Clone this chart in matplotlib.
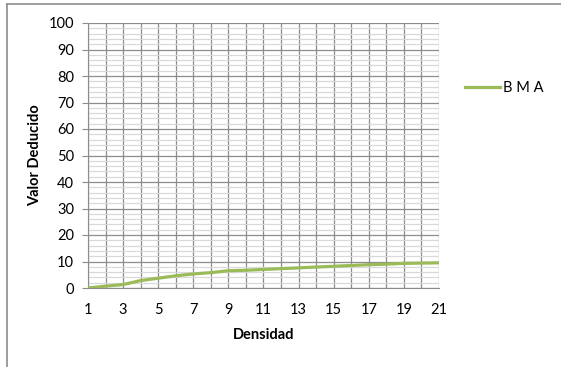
import numpy as np
import matplotlib.pyplot as plt
from matplotlib.lines import Line2D

densidad = list(range(1, 22))
valor_deducido = [0.0, 0.7, 1.3, 2.8, 3.7, 4.6, 5.3, 5.8, 6.5, 6.7, 7.0,
                  7.3, 7.6, 7.9, 8.2, 8.5, 8.8, 9.0, 9.3, 9.4, 9.5]
serie = "B M A"

plt.rcParams['font.family'] = ['Lato', 'DejaVu Sans']

fig = plt.figure(figsize=(5.61, 3.67), dpi=100)
ax = fig.add_axes([88 / 561, 1 - 288 / 367, (439 - 88) / 561, (288 - 23) / 367])

ax.plot(densidad, valor_deducido, color="#9bbb59", linewidth=2.3,
        solid_capstyle="butt", zorder=5)

ax.set_xlim(1, 21)
ax.set_ylim(0, 100)
ax.set_xticks(range(1, 22, 2))
ax.set_xticks(range(1, 22), minor=True)
ax.set_yticks(range(0, 101, 10))
ax.set_yticks(range(0, 101, 2), minor=True)

ax.grid(which="major", axis="y", color="#8c8c8c", linewidth=0.9)
ax.grid(which="minor", axis="y", color="#d9d9d9", linewidth=0.9)
ax.grid(which="both", axis="x", color="#8c8c8c", linewidth=0.9)
ax.set_axisbelow(True)

for s in ["top", "right"]:
    ax.spines[s].set_visible(False)
ax.spines["left"].set_color("#8c8c8c")
ax.spines["bottom"].set_color("#8c8c8c")
ax.tick_params(axis="y", which="major", length=4, color="#8c8c8c", labelsize=10.5, pad=6)
ax.tick_params(axis="y", which="minor", length=0)
ax.tick_params(axis="x", which="both", length=0, labelsize=10.5, pad=11)

ax.set_xlabel("Densidad", fontsize=10.5, fontweight="bold", labelpad=8)
ax.set_ylabel("Valor Deducido", fontsize=10.5, fontweight="bold", labelpad=5)

handle = Line2D([], [], color="#9bbb59", linewidth=2.3)
fig.legend([handle], [serie], loc="center left", bbox_to_anchor=(452 / 561, 1 - 88 / 367),
           frameon=False, fontsize=10.5, handlelength=2.4, handletextpad=0.2)

# chart area border (only top and left edges visible in frame)
fig.add_artist(Line2D([7 / 561, 1], [1 - 4 / 367, 1 - 4 / 367], color="#8c8c8c", linewidth=1.2))
fig.add_artist(Line2D([7 / 561, 7 / 561], [0, 1 - 4 / 367], color="#8c8c8c", linewidth=1.2))

fig.savefig("out.png", dpi=100)
